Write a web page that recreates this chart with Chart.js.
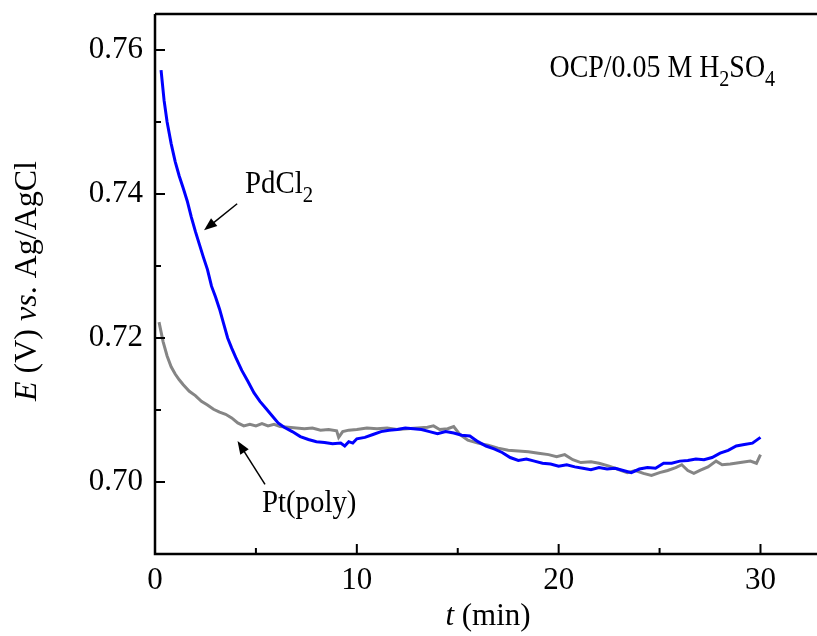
<!DOCTYPE html>
<html>
<head>
<meta charset="utf-8">
<script src="https://cdn.jsdelivr.net/npm/chart.js@4.4.1/dist/chart.umd.min.js"></script>
<style>
  body { margin: 0; background: #fff; }
  #wrap { width: 817px; height: 636px; }
</style>
</head>
<body>
<div id="wrap"><canvas id="ocp" width="817" height="636"></canvas></div>
<script>
// PdCl2 curve (blue)
const tPd = [0.3, 0.45, 0.6, 0.8, 1.0, 1.2, 1.4, 1.6, 1.8, 2.0, 2.2, 2.4, 2.6, 2.8, 3.0, 3.2, 3.4, 3.6, 3.8, 4.0,
  4.3, 4.6, 4.9, 5.2, 5.5, 5.8, 6.1, 6.4, 6.8, 7.2, 7.6, 8.0, 8.4, 8.8, 9.2, 9.4, 9.6, 9.8, 10.0, 10.4,
  10.8, 11.2, 11.6, 12.0, 12.4, 12.8, 13.2, 13.6, 14.0, 14.4, 14.8, 15.2, 15.6, 16.0, 16.4, 16.8, 17.2, 17.6, 18.0, 18.4,
  18.8, 19.2, 19.6, 20.0, 20.4, 20.8, 21.2, 21.6, 22.0, 22.4, 22.8, 23.2, 23.6, 24.0, 24.4, 24.8, 25.2, 25.6, 26.0, 26.4,
  26.8, 27.2, 27.6, 28.0, 28.4, 28.8, 29.2, 29.6, 30.0];
const ePd = [0.7572, 0.7530, 0.7500, 0.7470, 0.7445, 0.7425, 0.7408, 0.7390, 0.7368, 0.7348, 0.7330, 0.7312, 0.7295, 0.7272, 0.7257, 0.7240, 0.7220, 0.7200, 0.7186, 0.7173,
  0.7155, 0.7140, 0.7124, 0.7112, 0.7102, 0.7092, 0.7082, 0.7076, 0.7070, 0.7063, 0.7059, 0.7056, 0.7055, 0.7053, 0.7054, 0.7050, 0.7056, 0.7054, 0.7060, 0.7062,
  0.7066, 0.7070, 0.7072, 0.7073, 0.7075, 0.7074, 0.7073, 0.7070, 0.7067, 0.7070, 0.7068, 0.7065, 0.7064, 0.7056, 0.7050, 0.7046, 0.7041, 0.7034, 0.7030, 0.7032,
  0.7029, 0.7026, 0.7025, 0.7022, 0.7024, 0.7021, 0.7019, 0.7017, 0.7020, 0.7018, 0.7019, 0.7016, 0.7013, 0.7018, 0.7020, 0.7019, 0.7026, 0.7026, 0.7029, 0.7030,
  0.7032, 0.7031, 0.7034, 0.7040, 0.7044, 0.7050, 0.7052, 0.7054, 0.7062];

// Pt(poly) curve (grey)
const tPt = [0.2, 0.4, 0.6, 0.8, 1.0, 1.2, 1.4, 1.7, 2.0, 2.3, 2.6, 2.9, 3.2, 3.5, 3.8, 4.1, 4.4, 4.7, 5.0, 5.3,
  5.6, 5.9, 6.2, 6.6, 7.0, 7.4, 7.8, 8.2, 8.6, 9.0, 9.1, 9.3, 9.6, 10.0, 10.5, 11.0, 11.5, 12.0, 12.5, 13.0,
  13.5, 13.8, 14.1, 14.5, 14.8, 15.1, 15.5, 16.0, 16.5, 17.0, 17.5, 18.0, 18.5, 19.0, 19.5, 19.9, 20.3, 20.7, 21.1, 21.6,
  22.0, 22.5, 23.0, 23.4, 23.8, 24.2, 24.6, 25.0, 25.4, 25.8, 26.1, 26.4, 26.7, 27.0, 27.4, 27.8, 28.1, 28.5, 29.0, 29.5,
  29.8, 30.0];
const ePt = [0.7222, 0.7195, 0.7175, 0.7160, 0.7150, 0.7142, 0.7135, 0.7126, 0.7120, 0.7112, 0.7107, 0.7101, 0.7097, 0.7094, 0.7089, 0.7082, 0.7078, 0.7080, 0.7078, 0.7081,
  0.7078, 0.7080, 0.7077, 0.7076, 0.7075, 0.7074, 0.7075, 0.7072, 0.7073, 0.7071, 0.7062, 0.7070, 0.7072, 0.7073, 0.7075, 0.7074, 0.7075, 0.7073, 0.7074, 0.7075,
  0.7076, 0.7078, 0.7073, 0.7074, 0.7077, 0.7066, 0.7058, 0.7054, 0.7051, 0.7047, 0.7044, 0.7043, 0.7042, 0.7040, 0.7038, 0.7035, 0.7038, 0.7031, 0.7027, 0.7028,
  0.7026, 0.7022, 0.7017, 0.7013, 0.7016, 0.7012, 0.7009, 0.7013, 0.7016, 0.7020, 0.7024, 0.7016, 0.7012, 0.7016, 0.7021, 0.7029, 0.7024, 0.7025, 0.7027, 0.7029,
  0.7026, 0.7038];

const xMajor = [0, 10, 20, 30];
const xMinor = [5, 15, 25];
const yMajor = [0.70, 0.72, 0.74, 0.76];
const yMinor = [0.71, 0.73, 0.75];

const FONT = "'Liberation Serif', 'Times New Roman', serif";

// draws a run of text pieces (italic / subscript) starting at x, returns width
function drawRuns(ctx, runs, x, y, size, sx) {
  let w = 0;
  ctx.save();
  ctx.translate(x, y);
  ctx.scale(sx, 1);
  for (const r of runs) {
    const fs = r.sub ? size * 0.72 : size;
    ctx.font = (r.italic ? 'italic ' : '') + fs + 'px ' + FONT;
    ctx.fillText(r.text, w, r.sub ? size * 0.28 : 0);
    w += ctx.measureText(r.text).width;
  }
  ctx.restore();
  return w * sx;
}
function runsWidth(ctx, runs, size) {
  let w = 0;
  ctx.save();
  for (const r of runs) {
    const fs = r.sub ? size * 0.72 : size;
    ctx.font = (r.italic ? 'italic ' : '') + fs + 'px ' + FONT;
    w += ctx.measureText(r.text).width;
  }
  ctx.restore();
  return w;
}
function arrow(ctx, x1, y1, x2, y2) {
  const a = Math.atan2(y2 - y1, x2 - x1);
  const L = 13, W = 5;
  ctx.beginPath();
  ctx.moveTo(x1, y1);
  ctx.lineTo(x2 - L * 0.8 * Math.cos(a), y2 - L * 0.8 * Math.sin(a));
  ctx.lineWidth = 1.5;
  ctx.stroke();
  ctx.beginPath();
  ctx.moveTo(x2, y2);
  ctx.lineTo(x2 - L * Math.cos(a) + W * Math.sin(a), y2 - L * Math.sin(a) - W * Math.cos(a));
  ctx.lineTo(x2 - L * Math.cos(a) - W * Math.sin(a), y2 - L * Math.sin(a) + W * Math.cos(a));
  ctx.closePath();
  ctx.fill();
}

const frame = {
  id: 'frame',
  afterDraw(chart) {
    const {ctx, chartArea: a, scales: {x, y}} = chart;
    ctx.save();
    ctx.strokeStyle = '#000';
    ctx.fillStyle = '#000';
    ctx.lineWidth = 2.5;
    ctx.beginPath();
    ctx.moveTo(a.left, a.top); ctx.lineTo(a.right, a.top);
    ctx.moveTo(a.left, a.top); ctx.lineTo(a.left, a.bottom);
    ctx.moveTo(a.left - 1.25, a.bottom); ctx.lineTo(a.right, a.bottom);
    ctx.stroke();

    ctx.lineWidth = 2;
    ctx.beginPath();
    xMajor.forEach(v => { const p = x.getPixelForValue(v); ctx.moveTo(p, a.bottom); ctx.lineTo(p, a.bottom - 10); });
    xMinor.forEach(v => { const p = x.getPixelForValue(v); ctx.moveTo(p, a.bottom); ctx.lineTo(p, a.bottom - 6); });
    yMajor.forEach(v => { const p = y.getPixelForValue(v); ctx.moveTo(a.left, p); ctx.lineTo(a.left + 10, p); });
    yMinor.forEach(v => { const p = y.getPixelForValue(v); ctx.moveTo(a.left, p); ctx.lineTo(a.left + 6, p); });
    ctx.stroke();

    // annotations
    ctx.textBaseline = 'alphabetic';
    ctx.textAlign = 'left';
    drawRuns(ctx, [{text: 'PdCl'}, {text: '2', sub: true}], x.getPixelForValue(4.46), y.getPixelForValue(0.74017), 32, 0.9);
    arrow(ctx, x.getPixelForValue(4.07), y.getPixelForValue(0.73865), x.getPixelForValue(2.43), y.getPixelForValue(0.73495));
    drawRuns(ctx, [{text: 'Pt(poly)'}], x.getPixelForValue(5.3), y.getPixelForValue(0.6958), 32, 0.9);
    arrow(ctx, x.getPixelForValue(5.45), y.getPixelForValue(0.69968), x.getPixelForValue(4.09), y.getPixelForValue(0.70569));
    drawRuns(ctx, [{text: 'OCP/0.05 M H'}, {text: '2', sub: true}, {text: 'SO'}, {text: '4', sub: true}],
      x.getPixelForValue(19.55), y.getPixelForValue(0.75626), 31, 0.9);

    // axis titles
    const xt = [{text: 't', italic: true}, {text: ' (min)'}];
    const xw = runsWidth(ctx, xt, 31);
    drawRuns(ctx, xt, x.getPixelForValue(16.5) - xw / 2, chart.height - 11, 31, 1);

    const yt = [{text: 'E', italic: true}, {text: ' (V) '}, {text: 'vs', italic: true}, {text: '. Ag/AgCl'}];
    const yw = runsWidth(ctx, yt, 32);
    ctx.translate(36, 281);
    ctx.rotate(-Math.PI / 2);
    drawRuns(ctx, yt, -yw / 2, 0, 32, 1);
    ctx.restore();
  }
};

new Chart(document.getElementById('ocp'), {
  type: 'scatter',
  data: {
    datasets: [
      {
        label: 'PdCl2',
        data: tPd.map((t, i) => ({x: t, y: ePd[i]})),
        showLine: true,
        borderColor: '#0000ff',
        borderWidth: 3,
        pointRadius: 0,
        tension: 0
      },
      {
        label: 'Pt(poly)',
        data: tPt.map((t, i) => ({x: t, y: ePt[i]})),
        showLine: true,
        borderColor: '#858585',
        borderWidth: 3,
        pointRadius: 0,
        tension: 0
      }
    ]
  },
  options: {
    responsive: false,
    animation: false,
    layout: {padding: {top: 14, right: 0, left: 0, bottom: 0}},
    plugins: {legend: {display: false}, tooltip: {enabled: false}},
    scales: {
      x: {
        type: 'linear',
        min: 0,
        max: 32.8,
        afterFit: s => { s.height = 82; s.paddingLeft = 0; s.paddingRight = 0; },
        afterBuildTicks: s => { s.ticks = xMajor.map(v => ({value: v})); },
        grid: {display: false, drawTicks: false},
        border: {display: false},
        ticks: {
          padding: 8,
          color: '#000',
          font: {family: FONT, size: 31},
          callback: v => String(v)
        }
      },
      y: {
        type: 'linear',
        min: 0.690,
        max: 0.765,
        afterFit: s => { s.width = 155; s.paddingTop = 0; s.paddingBottom = 0; },
        afterBuildTicks: s => { s.ticks = yMajor.map(v => ({value: v})); },
        grid: {display: false, drawTicks: false},
        border: {display: false},
        ticks: {
          padding: 12,
          color: '#000',
          font: {family: FONT, size: 31},
          callback: v => v.toFixed(2)
        }
      }
    }
  },
  plugins: [frame]
});
</script>
</body>
</html>
